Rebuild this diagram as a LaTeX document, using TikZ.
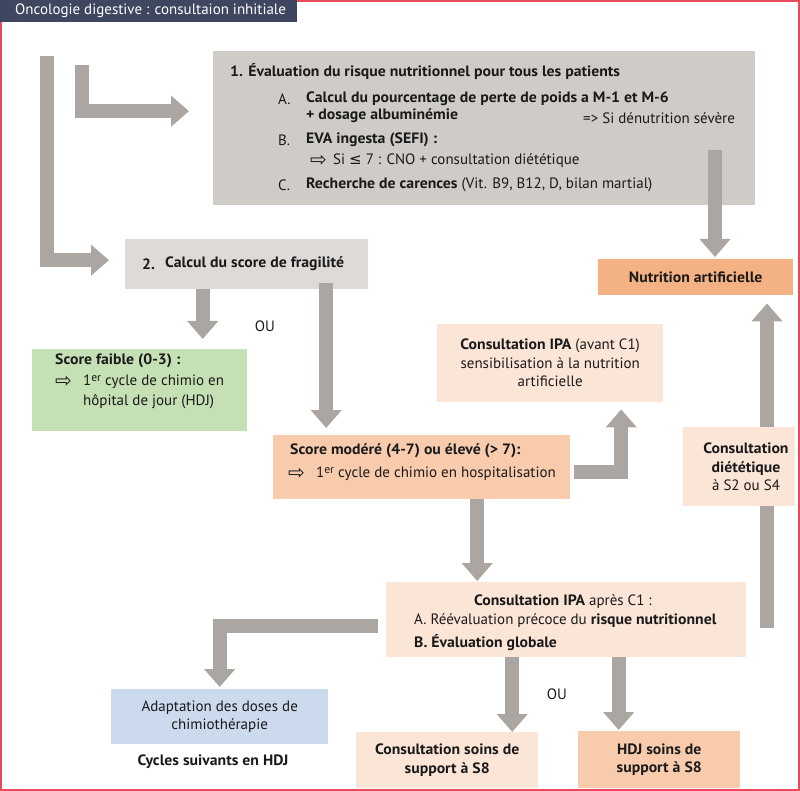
\documentclass[tikz,border=0pt]{standalone}
\usepackage{fontspec}
\setmainfont{PT Sans}[BoldFeatures={FakeStretch=1.05}]
\newfontfamily\hdrf{PT Sans}
\newfontfamily\symf{DejaVu Sans}
\usetikzlibrary{arrows.meta,calc}
\definecolor{navy}{HTML}{3F4660}
\definecolor{framered}{HTML}{E84A5C}
\definecolor{grayA}{HTML}{CFCBC7}
\definecolor{grayB}{HTML}{DDDAD7}
\definecolor{arrowc}{HTML}{ABA6A1}
\definecolor{orangeA}{HTML}{F4B183}
\definecolor{orangeB}{HTML}{F8CBAD}
\definecolor{peach}{HTML}{FBE5D6}
\definecolor{greenA}{HTML}{C5E0B4}
\definecolor{blueA}{HTML}{CCDAEE}
\definecolor{txt}{HTML}{1A1A1A}
\newcommand\mysz{\fontsize{15}{18.5}\selectfont}
\newcommand\ra{{\symf\fontsize{20}{20}\selectfont\char"21E8}}
\newcommand\er{\raisebox{4.5pt}{\fontsize{11.5}{11.5}\selectfont er}}
\begin{document}
\begin{tikzpicture}[x=1pt,y=-1pt,
  box/.style={draw=none, inner sep=0pt, anchor=north west, align=center, font=\mysz, text=txt},
  lbl/.style={anchor=west, inner sep=0pt, font=\mysz, text=txt},
  lblb/.style={lbl, font=\mysz\bfseries},
  ctr/.style={anchor=center, inner sep=0pt, font=\mysz, text=txt, align=center},
  barrow/.style={draw=arrowc, line width=14pt, line join=miter, -{Triangle[width=30pt,length=18pt]}}]
\useasboundingbox (0,0) rectangle (800,791);
% frame
\draw[framered, line width=2pt] (1,1) rectangle (799,790);
\node[fill=navy, anchor=north west, inner sep=0pt, minimum width=297pt, minimum height=22pt] (hdr) at (0,0) {};
\node[anchor=west, inner sep=0pt, text=white, font=\hdrf\fontsize{15}{18}\selectfont] (hdrt) at (15,11) {Oncologie digestive : consultaion inhitiale};
% boxes
\node[box, fill=grayA, minimum width=542pt, minimum height=154pt] (b1) at (213,51) {};
\node[box, fill=grayB, minimum width=243pt, minimum height=50pt] (frag) at (125,239) {};
\node[box, fill=orangeA, minimum width=195pt, minimum height=36pt] (nutr) at (598,259) {\bfseries Nutrition artificielle};
\node[box, fill=peach, minimum width=226pt, minimum height=78pt] (ipa1) at (437,324) {\textbf{Consultation IPA} (avant C1)\\sensibilisation à la nutrition\\artificielle};
\node[box, fill=greenA, minimum width=215pt, minimum height=82pt] (faible) at (32,349) {};
\node[box, fill=orangeB, minimum width=297pt, minimum height=64pt] (modere) at (273,435) {};
\node[box, fill=peach, minimum width=360pt, minimum height=75pt] (ipa2) at (386,582) {};
\node[box, fill=blueA, minimum width=217pt, minimum height=55pt] (adapt) at (111,689) {Adaptation des doses de\\chimiothérapie};
\node[box, fill=peach, minimum width=182pt, minimum height=56pt] (sup1) at (356,732) {\bfseries Consultation soins de\\\bfseries support à S8};
\node[box, fill=orangeB, minimum width=162pt, minimum height=57pt] (sup2) at (578,731) {\bfseries HDJ soins de\\\bfseries support à S8};
% texts box 1
\node[lblb] (t1) at (230,71) {1. Évaluation du risque nutritionnel pour tous les patients};
\node[lbl] (tA) at (278,99) {A.};
\node[lblb] (tA1) at (306,99) {Calcul du pourcentage de perte de poids a M-1 et M-6};
\node[lblb] (tA2) at (306,116) {+ dosage albuminémie};
\node[lbl] (tA3) at (583,118) {=> Si dénutrition sévère};
\node[lbl] (tB) at (278,140) {B.};
\node[lblb] (tB1) at (306,140) {EVA ingesta (SEFI) :};
\node[lbl] (tB2a) at (310,161) {\ra};
\node[lbl] (tB2) at (333,161) {Si {\symf ≤} 7 : CNO + consultation diététique};
\node[lbl] (tC) at (278,185) {C.};
\node[lbl] (tC1) at (306,185) {\textbf{Recherche de carences} (Vit. B9, B12, D, bilan martial)};
% fragilite
\node[lblb] (f1) at (142,264) {2.};
\node[lblb] (f2) at (165,264) {Calcul du score de fragilité};
% faible
\node[lblb] (s1t) at (55,361) {Score faible (0-3) :};
\node[lbl] (s2a) at (55,382) {\ra};
\node[lbl] (s2t) at (83,382) {1\er{} cycle de chimio en};
\node[lbl] (s3t) at (83,402) {hôpital de jour (HDJ)};
% modere
\node[lblb] (m1) at (290,451) {Score modéré (4-7) ou élevé (> 7):};
\node[lbl] (m2a) at (288,474) {\ra};
\node[lbl] (m2) at (316,474) {1\er{} cycle de chimio en hospitalisation};
% ipa2
\node[lbl] (i1) at (474,602) {\textbf{Consultation IPA} après C1 :};
\node[lbl] (i2) at (414,621) {A. Réévaluation précoce du \textbf{risque nutritionnel}};
\node[lblb] (i3) at (414,643) {B. Évaluation globale};
% others
\node[ctr] (ou1) at (265,326) {OU};
\node[ctr] (ou2) at (557,694) {OU};
\node[ctr, font=\mysz\bfseries] (cyc) at (213,762) {Cycles suivants en HDJ};
% arrows
\coordinate (s1) at (47,56);
\coordinate (s2) at (82,65);
\coordinate (s3) at (715,150);
\coordinate (a4s) at ([xshift=-44pt]frag.south);
\coordinate (a5s) at ([xshift=79.5pt,yshift=6pt]frag.south);
\coordinate (a6s) at ([xshift=4pt,yshift=-4.5pt]modere.east);
\coordinate (a6e) at ([xshift=71pt]ipa1.south);
\coordinate (a7s) at ([xshift=55.5pt]modere.south);
\coordinate (a8s) at ([xshift=-8pt,yshift=-6pt]ipa2.west);
\coordinate (a9s) at ([xshift=-54pt]ipa2.south);
\coordinate (a10s) at ([xshift=52.5pt]ipa2.south);
\coordinate (a11s) at (767,628);
\draw[barrow] (s1) |- ([xshift=-16pt,yshift=4pt]frag.west);
\draw[barrow] (s2) |- ([xshift=-24pt,yshift=17pt]b1.west);
\draw[barrow, shorten >=2pt] (s3) -- (s3 |- nutr.north);
\draw[barrow, shorten >=10pt] (a4s) -- (a4s |- faible.north);
\draw[barrow, shorten >=7pt] (a5s) -- (a5s |- modere.north);
\draw[barrow, shorten >=7pt] (a6s) -| (a6e);
\draw[barrow, shorten >=1pt] (a7s) -- (a7s |- ipa2.north);
\draw[barrow, shorten >=2pt] (a8s) -| (adapt.north);
\draw[barrow] (a9s) -- (a9s |- sup1.north);
\draw[barrow, shorten >=1pt] (a10s) -- (a10s |- sup2.north);
\draw[barrow, shorten >=8pt] (a11s) -- (a11s |- nutr.south);
% dietetique box over the arrow
\node[box, fill=peach, minimum width=112pt, minimum height=79pt] (diet) at (683,427) {};
\node[ctr] (dt) at (746,467) {\textbf{Consultation}\\\textbf{diététique}\\à S2 ou S4};
\end{tikzpicture}
\end{document}
